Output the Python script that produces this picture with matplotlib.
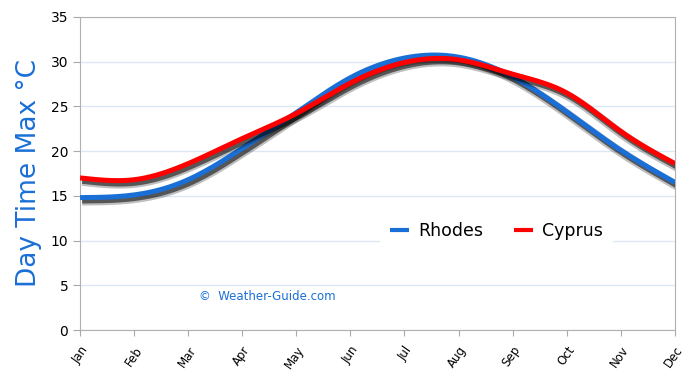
import numpy as np
import matplotlib
matplotlib.use("Agg")
import matplotlib.pyplot as plt
import matplotlib.patheffects as pe

# datos
months = ["Jan", "Feb", "Mar", "Apr", "May", "Jun", "Jul", "Aug", "Sep", "Oct", "Nov", "Dec"]
rhodes = [14.8, 15.1, 16.8, 20.3, 24.3, 28.2, 30.4, 30.5, 28.3, 24.4, 20.1, 16.5]
cyprus = [17.0, 16.8, 18.6, 21.4, 24.2, 27.6, 29.9, 30.2, 28.6, 26.5, 22.2, 18.6]
yticks = [0, 5, 10, 15, 20, 25, 30, 35]


def spline(y, n=20):
    # spline cubico natural solo para suavizar el trazo
    y = np.asarray(y, float)
    m = len(y)
    A = np.zeros((m, m))
    b = np.zeros(m)
    A[0, 0] = A[-1, -1] = 1
    for i in range(1, m - 1):
        A[i, i - 1], A[i, i], A[i, i + 1] = 1, 4, 1
        b[i] = 6 * (y[i + 1] - 2 * y[i] + y[i - 1])
    M = np.linalg.solve(A, b)
    xs, ys = [], []
    for i in range(m - 1):
        t = np.linspace(0, 1, n, endpoint=False)
        ys.append((1 - t) * y[i] + t * y[i + 1]
                  + ((1 - t) ** 3 - (1 - t)) * M[i] / 6 + (t ** 3 - t) * M[i + 1] / 6)
        xs.append(i + t)
    xs.append([m - 1])
    ys.append([y[-1]])
    return np.concatenate(xs), np.concatenate(ys)


fig = plt.figure(figsize=(6.9, 3.75), dpi=100)
ax = fig.add_axes([0.116, 0.12, 0.862, 0.835])

shadow = [pe.SimpleLineShadow(offset=(1.5, -2.5), shadow_color="k", alpha=0.25, linewidth=6.5),
          pe.SimpleLineShadow(offset=(1.5, -2.5), shadow_color="k", alpha=0.55, linewidth=3.5),
          pe.Normal()]

for name, vals, col in [("Rhodes", rhodes, "#1a6fd6"), ("Cyprus", cyprus, "#ff0000")]:
    xs, ys = spline(vals)
    ax.plot(xs, ys, color=col, lw=3.6, label=name, path_effects=shadow,
            solid_capstyle="butt", zorder=3)

ax.set_xlim(0, 11)
ax.set_ylim(0, 35)
ax.set_yticks(yticks)
ax.set_xticks(range(12))
ax.set_xticklabels(months, rotation=55, ha="right", rotation_mode="anchor", fontsize=8.5)
ax.tick_params(axis="y", labelsize=10, length=5, color="#aaaaaa")
ax.tick_params(axis="x", length=4, color="#aaaaaa", pad=6)
ax.grid(axis="y", color="#dce7f5", lw=1)
ax.set_axisbelow(True)
for s in ax.spines.values():
    s.set_color("#b0b0b0")

ax.set_ylabel("Day Time Max °C", color="#1a6fd6", fontsize=19, labelpad=6)

ax.text(0.2, 0.095, "©  Weather-Guide.com", color="#1a6fd6", fontsize=8.5,
        transform=ax.transAxes)

leg = ax.legend(loc="center", bbox_to_anchor=(0.70, 0.315), ncol=2, frameon=True,
                fontsize=12.5, handlelength=1.1, columnspacing=1.8, handletextpad=0.5,
                borderpad=0.6)
leg.get_frame().set_edgecolor("none")
leg.get_frame().set_facecolor("white")
leg.get_frame().set_alpha(1)
for h in leg.get_lines():
    h.set_linewidth(3)
    h.set_path_effects([])

plt.savefig("out.png")
